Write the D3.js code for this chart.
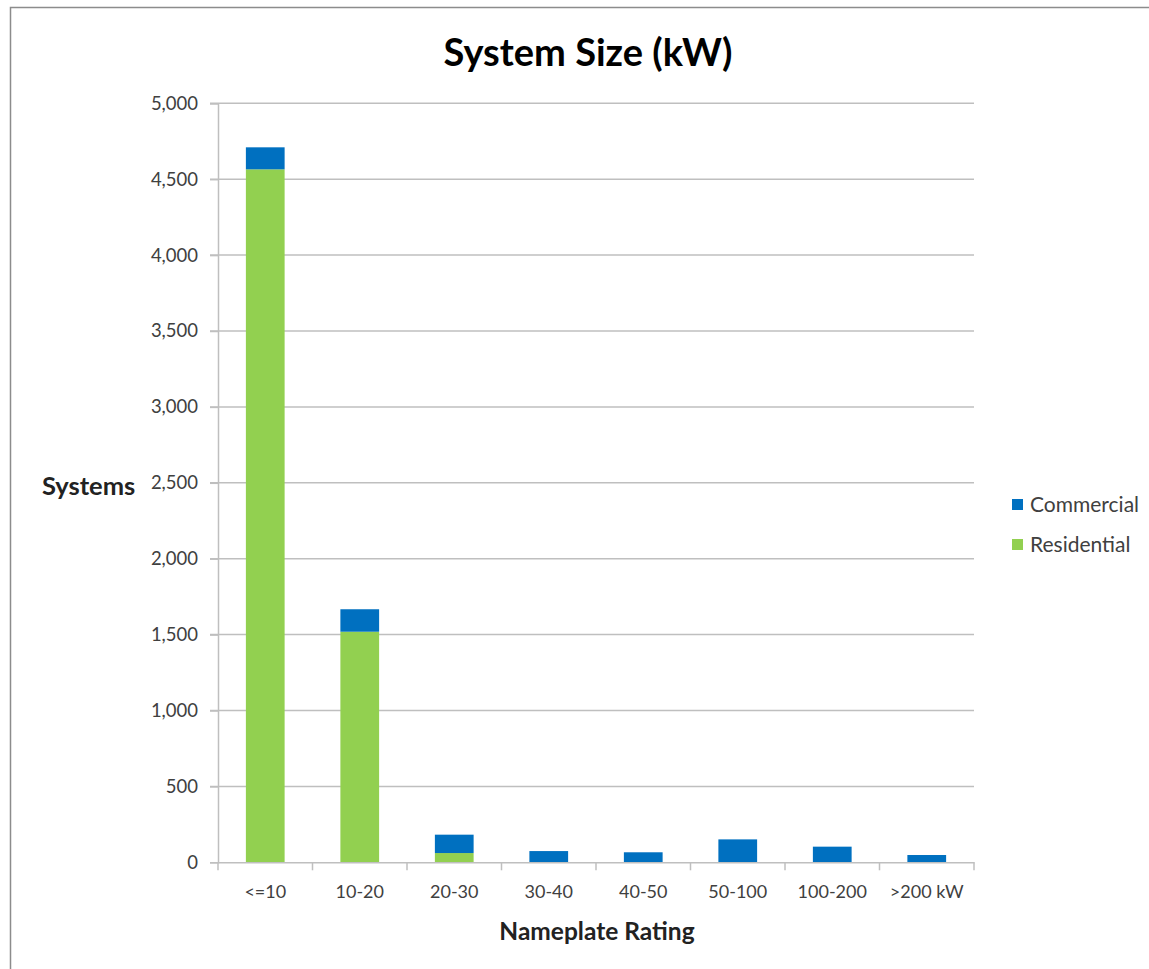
<!DOCTYPE html>
<html>
<head>
<meta charset="utf-8">
<script src="https://cdn.jsdelivr.net/npm/d3@7"></script>
<style>
  html, body { margin: 0; padding: 0; background: #fff; }
  svg { display: block; }
  text { font-family: Lato, "Open Sans", "DejaVu Sans", sans-serif; }
</style>
</head>
<body>
<svg id="chart" width="1149" height="969"></svg>
<script>
// Installed systems by nameplate rating
const categories = ["<=10", "10-20", "20-30", "30-40", "40-50", "50-100", "100-200", ">200 kW"];
const residential = [4565, 1519, 61, 0, 0, 0, 0, 0];
const commercial  = [145, 148, 121, 74, 66, 151, 103, 48];
const yTicks = [0, 500, 1000, 1500, 2000, 2500, 3000, 3500, 4000, 4500, 5000];
const seriesNames = ["Commercial", "Residential"];
const seriesColors = { Commercial: "#0070C0", Residential: "#92D050" };

const svg = d3.select("#chart");
const plot = { left: 218, right: 974, top: 103.3, bottom: 862.3 };

// Outer frame
svg.append("rect")
  .attr("x", 10.5).attr("y", 7.5)
  .attr("width", 1200).attr("height", 1000)
  .attr("fill", "none").attr("stroke", "#8c8c8c").attr("stroke-width", 1.5);

const x = d3.scaleBand().domain(categories).range([plot.left, plot.right]).paddingInner(0.59).paddingOuter(0.295);
const xAxisBand = d3.scaleBand().domain(categories).range([plot.left, plot.right]);
const y = d3.scaleLinear().domain([0, 5000]).range([plot.bottom, plot.top]);

// Horizontal gridlines
svg.append("g")
  .selectAll("line")
  .data(yTicks.filter(d => d > 0))
  .join("line")
  .attr("x1", plot.left - 8).attr("x2", plot.right)
  .attr("y1", d => y(d)).attr("y2", d => y(d))
  .attr("stroke", "#bfbfbf").attr("stroke-width", 1.5);

// Y axis
const yAxis = svg.append("g")
  .attr("transform", `translate(${plot.left},0)`)
  .call(d3.axisLeft(y).tickValues(yTicks).tickSize(8).tickPadding(12).tickFormat(d3.format(",")));
yAxis.select(".domain").attr("stroke", "#bfbfbf").attr("stroke-width", 1.5);
yAxis.selectAll(".tick line").attr("stroke", "#bfbfbf").attr("stroke-width", 1.5);
yAxis.selectAll(".tick text")
  .attr("fill", "#404040").attr("font-size", 18.5)
  .attr("font-family", "Lato, 'Open Sans', sans-serif");

// Stacked bars
const stackData = categories.map((c, i) => ({ cat: c, Residential: residential[i], Commercial: commercial[i] }));
const stack = d3.stack().keys(["Residential", "Commercial"])(stackData);

svg.append("g")
  .selectAll("g")
  .data(stack)
  .join("g")
  .attr("fill", s => seriesColors[s.key])
  .selectAll("rect")
  .data(s => s.filter(d => d[1] - d[0] > 0))
  .join("rect")
  .attr("x", d => x(d.data.cat))
  .attr("width", x.bandwidth())
  .attr("y", d => y(d[1]))
  .attr("height", d => y(d[0]) - y(d[1]));

// X axis
const xAxis = svg.append("g")
  .attr("transform", `translate(0,${plot.bottom})`)
  .call(d3.axisBottom(xAxisBand).tickSize(0).tickPadding(23));
xAxis.select(".domain").attr("stroke", "#bfbfbf").attr("stroke-width", 1.5);
xAxis.selectAll(".tick text")
  .attr("fill", "#404040").attr("font-size", 18)
  .attr("font-family", "Lato, 'Open Sans', sans-serif");
// Category boundary ticks
xAxis.append("g")
  .selectAll("line")
  .data(d3.range(categories.length + 1))
  .join("line")
  .attr("x1", i => plot.left + i * xAxisBand.step())
  .attr("x2", i => plot.left + i * xAxisBand.step())
  .attr("y1", 0).attr("y2", 8)
  .attr("stroke", "#bfbfbf").attr("stroke-width", 1.5);

// Title and axis titles
svg.append("text")
  .attr("x", 588).attr("y", 66)
  .attr("text-anchor", "middle")
  .attr("font-size", 38).attr("font-weight", "bold").attr("fill", "#000")
  .text("System Size (kW)");

svg.append("text")
  .attr("x", 597).attr("y", 940)
  .attr("text-anchor", "middle")
  .attr("font-size", 24.5).attr("font-weight", "bold").attr("fill", "#222")
  .text("Nameplate Rating");

svg.append("text")
  .attr("x", 42).attr("y", 495)
  .attr("font-size", 25.5).attr("font-weight", "bold").attr("fill", "#222")
  .text("Systems");

// Legend
const legend = svg.append("g").attr("transform", "translate(1012,499)");
const items = legend.selectAll("g")
  .data(seriesNames)
  .join("g")
  .attr("transform", (d, i) => `translate(0,${i * 40})`);
items.append("rect")
  .attr("width", 11).attr("height", 11)
  .attr("fill", d => seriesColors[d]);
items.append("text")
  .attr("x", 18).attr("y", 13)
  .attr("font-size", 21).attr("fill", "#404040")
  .text(d => d);
</script>
</body>
</html>
